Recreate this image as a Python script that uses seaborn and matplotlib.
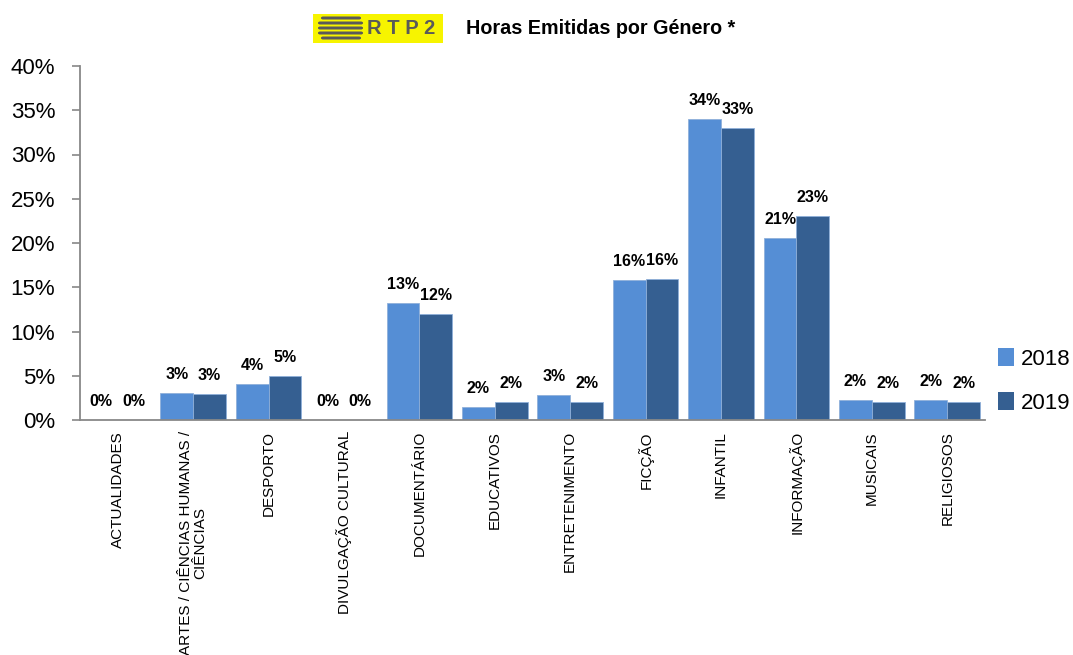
import matplotlib
matplotlib.use("Agg")
import matplotlib.pyplot as plt
import matplotlib.patches as mpatches
import seaborn as sns
import pandas as pd
import numpy as np

categories = ["ACTUALIDADES", "ARTES / CIÊNCIAS HUMANAS /\nCIÊNCIAS", "DESPORTO",
              "DIVULGAÇÃO CULTURAL", "DOCUMENTÁRIO", "EDUCATIVOS", "ENTRETENIMENTO",
              "FICÇÃO", "INFANTIL", "INFORMAÇÃO", "MUSICAIS", "RELIGIOSOS"]
v2018 = [0.0, 3.05, 4.1, 0.0, 13.2, 1.5, 2.8, 15.8, 34.0, 20.6, 2.3, 2.3]
v2019 = [0.0, 2.9, 5.0, 0.0, 12.0, 2.0, 2.0, 15.9, 33.0, 23.0, 2.0, 2.0]
years = ["2018", "2019"]
colors = ["#558ED5", "#355F91"]

df = pd.DataFrame({
    "cat": categories * 2,
    "val": v2018 + v2019,
    "year": [years[0]] * len(categories) + [years[1]] * len(categories),
})

sns.set_style("white")
plt.rcParams["font.family"] = ["Liberation Sans", "DejaVu Sans"]
plt.rcParams["text.color"] = "black"
plt.rcParams["xtick.labelcolor"] = "black"
plt.rcParams["ytick.labelcolor"] = "black"

fig = plt.figure(figsize=(10.73, 6.55), dpi=100)
ax = fig.add_axes([80/1073, 1-420/655, 905/1073, 354/655])

sns.barplot(data=df, x="cat", y="val", hue="year", palette=colors, width=0.87,
            gap=0, ax=ax, saturation=1, legend=True, linewidth=0.6, edgecolor="#8FB0DA")

for cont in ax.containers:
    labels = [f"{b.get_height():.0f}%" for b in cont]
    ax.bar_label(cont, labels=labels, padding=8, fontsize=11.5, fontweight="bold",
                 color="black")

ax.set_ylim(0, 40)
ax.set_xlim(-0.5, len(categories) - 0.5)
ax.set_yticks(np.arange(0, 41, 5))
ax.set_yticklabels([f"{t}%" for t in range(0, 41, 5)], fontsize=16)
ax.set_xticks(range(len(categories)))
ax.set_xticklabels(categories, rotation=90, fontsize=11, va="top", ha="center",
                   linespacing=0.95)
ax.tick_params(axis="x", which="major", length=0, pad=8, labelcolor="black")
ax.set_xticks(np.arange(-0.5, len(categories), 1), minor=True)
ax.tick_params(axis="x", which="minor", length=4.5, color="#888888", width=1.2, direction="out")
ax.tick_params(axis="y", length=5.8, color="#888888", width=1.2, direction="out", left=True,
               pad=12, labelcolor="black")
ax.set_xlabel("")
ax.set_ylabel("")
for s in ["top", "right"]:
    ax.spines[s].set_visible(False)
for s in ["left", "bottom"]:
    ax.spines[s].set_color("#888888")
    ax.spines[s].set_linewidth(1.3)

leg = ax.legend(loc="upper left", bbox_to_anchor=(1.005, 0.229), frameon=False,
                fontsize=16, handlelength=0.7, handleheight=0.9, handletextpad=0.3,
                labelspacing=1.0, borderaxespad=0)
for h in leg.legend_handles:
    h.set_linewidth(0)
for t in leg.get_texts():
    t.set_color("black")

# Logo
fig.patches.append(mpatches.Rectangle((313/1073, 1-43/655), 130/1073, 29/655,
                                      transform=fig.transFigure, facecolor="#F7F400",
                                      edgecolor="none"))
stripes = [(321, 40, 18), (318, 45, 23), (318, 45, 28), (318, 45, 33), (321, 40, 38)]
for x0, w, yy in stripes:
    fig.patches.append(mpatches.FancyBboxPatch((x0/1073, 1-(yy+1.5)/655), w/1073, 3/655,
                                               boxstyle="round,pad=0,rounding_size=0.002",
                                               transform=fig.transFigure,
                                               facecolor="#5A5A5A", edgecolor="none"))
fig.text(367/1073, 1-29/655, "R T P 2", fontsize=14.5, fontweight="bold", color="#5A5A5A",
         va="center", ha="left")
fig.text(466/1073, 1-29/655, "Horas Emitidas por Género *", fontsize=14.2,
         fontweight="bold", va="center", ha="left", color="black")

fig.savefig("out.png", dpi=100)
